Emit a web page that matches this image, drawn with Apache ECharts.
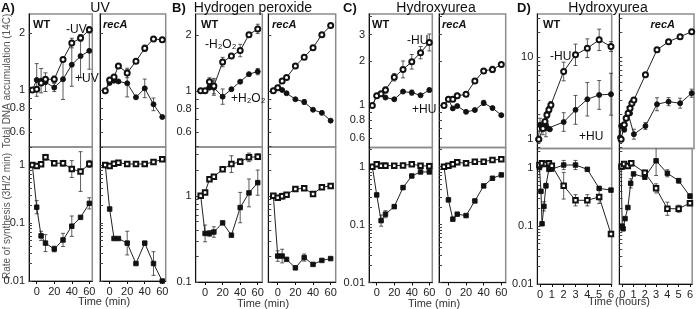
<!DOCTYPE html>
<html>
<head>
<meta charset="utf-8">
<script src="https://cdn.jsdelivr.net/npm/echarts@6/dist/echarts.min.js"></script>
<style>
html, body { margin: 0; padding: 0; background: #fff; }
#chart { width: 696px; height: 309px; }
</style>
</head>
<body>
<div id="chart"></div>
<script>
// time points (min) for panels A-C
const tMin = [-5, 0, 5, 10, 20, 30, 40, 50, 60];

// A) UV  -- "No" = untreated (open), "Yes" = treated (filled); Err = multiplicative error factor, 0 = none
const uvWtDnaNo = [1.0, 1.01, 1.09, 1.14, 1.14, 1.45, 1.77, 1.88, 2.08];
const uvWtDnaNoErr = [0, 0, 0, 0, 1.04, 0, 1.06, 1.04, 1.04];
const uvWtDnaYes = [1.0, 1.13, 1.12, 1.10, 1.03, 1.14, 1.36, 1.51, 1.61];
const uvWtDnaYesErr = [0, 1.22, 1.16, 1.12, 1.05, 1.28, 1.3, 1.3, 1.25];
const uvRecDnaNo = [0.99, 1.13, 1.17, 1.34, 1.23, 1.42, 1.66, 1.86, 1.84];
const uvRecDnaNoErr = [0, 0, 0, 0, 1.06, 0, 1.04, 1.03, 1.03];
const uvRecDnaYes = [0.99, 1.09, 1.12, 1.11, 1.085, 0.915, 1.02, 0.84, 0.72];
const uvRecDnaYesErr = [0, 0, 0, 0, 1.18, 0, 1.12, 1.08, 0];
const uvWtSynNo = [1.0, 0.96, 1.03, 1.36, 1.07, 1.07, 0.85, 0.77, 1.04];
const uvWtSynNoErr = [0, 0, 0, 1.12, 1.1, 1.12, 1.4, 2.2, 1.15];
const uvWtSynYes = [1.0, 0.187, 0.06, 0.045, 0.0356, 0.051, 0.088, 0.125, 0.218];
const uvWtSynYesErr = [0, 1.3, 1.2, 1.4, 1.12, 1.3, 1.5, 0, 1.25];
const uvRecSynNo = [1.0, 0.96, 1.05, 1.09, 1.04, 1.04, 1.04, 1.12, 1.25];
const uvRecSynNoErr = [0, 0, 0, 0, 0, 0, 0, 0, 0];
const uvRecSynYes = [1.0, 0.174, 0.054, 0.054, 0.045, 0.020, 0.045, 0.020, 0.01];
const uvRecSynYesErr = [0, 0, 0, 0, 1.6, 0, 0, 1.6, 0];

// B) Hydrogen peroxide
const h2WtDnaNo = [1.0, 1.0, 1.12, 1.06, 1.43, 1.54, 1.65, 2.01, 2.16];
const h2WtDnaNoErr = [0, 0, 1.05, 1.1, 1.06, 0, 1.08, 0, 1.06];
const h2WtDnaYes = [1.0, 1.0, 1.04, 1.04, 0.93, 1.02, 1.12, 1.23, 1.27];
const h2WtDnaYesErr = [0, 0, 0, 1.1, 1.1, 0, 0, 0, 1.04];
const h2RecDnaNo = [1.0, 1.04, 1.13, 1.18, 1.36, 1.52, 1.71, 2.01, 2.25];
const h2RecDnaNoErr = [0, 0, 0, 0, 0, 0, 0, 0, 0];
const h2RecDnaYes = [1.0, 1.04, 1.01, 0.97, 0.90, 0.87, 0.79, 0.76, 0.69];
const h2RecDnaYesErr = [0, 0, 0, 0, 0, 1.03, 0, 0, 0];
const h2WtSynNo = [1.0, 1.09, 1.56, 1.66, 2.03, 2.33, 2.49, 2.79, 2.84];
const h2WtSynNoErr = [0, 0, 0, 0, 0, 1.25, 1.08, 1.12, 1.08];
const h2WtSynYes = [1.0, 0.366, 0.366, 0.38, 0.485, 0.349, 0.73, 1.08, 1.42];
const h2WtSynYesErr = [0, 1.25, 1.08, 1.15, 0, 0, 1.5, 1.45, 1.4];
const h2RecSynNo = [1.0, 0.95, 0.99, 1.03, 1.2, 1.22, 1.05, 1.26, 1.3];
const h2RecSynNoErr = [0, 0, 1.08, 0, 0, 0, 0, 0, 0];
const h2RecSynYes = [1.0, 0.2, 0.2, 0.183, 0.146, 0.192, 0.16, 0.178, 0.187];
const h2RecSynYesErr = [0, 1.15, 1.2, 0, 0, 1.1, 0, 0, 0];

// C) Hydroxyurea (min)
const huWtDnaNo = [1.0, 1.16, 1.2, 1.27, 1.55, 1.75, 1.97, 2.27, 2.66];
const huWtDnaNoErr = [0, 0, 0, 1.05, 1.06, 1.14, 1.12, 1.1, 1.14];
const huWtDnaYes = [1.0, 1.16, 1.2, 1.13, 1.1, 1.24, 1.22, 1.17, 1.27];
const huWtDnaYesErr = [0, 0, 0, 0, 0, 0, 1.04, 0, 1.03];
const huRecDnaNo = [1.0, 1.1, 1.1, 1.16, 1.19, 1.46, 1.71, 1.75, 1.89];
const huRecDnaNoErr = [0, 0, 0, 0, 0, 0, 0, 1.05, 0];
const huRecDnaYes = [1.0, 1.1, 0.955, 0.99, 0.905, 0.93, 1.04, 0.96, 0.86];
const huRecDnaYesErr = [0, 0, 0, 0, 0, 0, 1.04, 0, 0];
const huWtSynNo = [1.0, 1.1, 1.04, 1.04, 1.04, 1.05, 1.1, 1.04, 1.02];
const huWtSynNoErr = [0, 0, 0, 1.12, 0, 0, 0, 0, 1.12];
const huWtSynYes = [1.0, 0.325, 0.117, 0.151, 0.204, 0.435, 0.69, 0.81, 0.81];
const huWtSynYesErr = [0, 0, 1.25, 1.15, 1.06, 1.08, 0, 0, 0];
const huRecSynNo = [1.0, 1.04, 1.1, 1.19, 1.14, 1.22, 1.22, 1.3, 1.34];
const huRecSynNoErr = [0, 0, 0, 0, 0, 0, 0, 0, 0];
const huRecSynYes = [1.0, 0.267, 0.124, 0.151, 0.143, 0.256, 0.465, 0.63, 0.72];
const huRecSynYesErr = [0, 0, 0, 0, 0, 0, 0, 0, 0];

// D) Hydroxyurea (hours)
const dWtDnaNoT = [-0.1, 0.25, 0.42, 0.58, 0.75, 0.92, 2, 3, 4, 5, 6];
const dWtDnaNo = [1.0, 1.35, 1.64, 1.98, 2.28, 2.62, 6.7, 10.7, 12.9, 16.3, 13.5];
const dWtDnaNoErr = [0, 0, 0, 1.1, 1.1, 1.1, 1.3, 1.35, 1.3, 1.35, 1.15];
const dWtDnaYesT = [-0.15, 0, 0.08, 0.25, 0.5, 0.67, 0.83, 2, 3, 4, 5, 6];
const dWtDnaYes = [1.0, 1.5, 1.45, 1.36, 1.5, 1.36, 1.32, 1.62, 2.28, 3.07, 3.47, 3.54];
const dWtDnaYesErr = [0, 1.2, 0, 1.2, 1.4, 0, 0, 1.3, 1.5, 1.6, 1.5, 1.8];
const dRecDnaNoT = [-0.1, 0.17, 0.33, 0.5, 0.67, 0.83, 1, 2, 3, 4, 5, 6];
const dRecDnaNo = [1.0, 1.5, 1.8, 2.07, 2.39, 2.75, 3.0, 6.1, 12.3, 15.5, 17.8, 20.5];
const dRecDnaNoErr = [0, 0, 0, 0, 0, 1.08, 0, 1.05, 1.06, 1.05, 1.06, 1.04];
const dRecDnaYesT = [-0.2, -0.1, 0, 0.17, 0.5, 0.67, 1, 2, 3, 4, 5, 6];
const dRecDnaYes = [1.05, 1.45, 1.45, 1.3, 2.07, 2.07, 1.15, 1.45, 2.67, 2.87, 2.75, 3.64];
const dRecDnaYesErr = [0, 0, 0, 0, 1.2, 0, 1.15, 1.1, 1.2, 1.12, 1.15, 1.12];
const dWtSynNoT = [-0.05, 0.17, 0.5, 0.75, 1, 2, 3, 4, 5, 6];
const dWtSynNo = [1.14, 1.22, 1.19, 1.22, 1.11, 0.5, 0.28, 0.28, 0.32, 0.073];
const dWtSynNoErr = [0, 0, 0, 0, 0, 1.7, 1.25, 1.25, 1.3, 0];
const dWtSynYesT = [-0.05, 0.08, 0.17, 0.33, 0.5, 0.75, 1, 2, 3, 4, 5, 6];
const dWtSynYes = [1.03, 0.4, 0.11, 0.22, 0.5, 0.96, 0.97, 1.14, 1.14, 0.96, 0.45, 0.42];
const dWtSynYesErr = [0, 0, 0, 1.2, 1.1, 0, 0, 1.2, 1.2, 0, 0, 0];
const dRecSynNoT = [-0.05, 0.17, 0.5, 0.8, 2, 3, 4, 5, 6];
const dRecSynNo = [1.07, 1.19, 1.1, 1.22, 0.84, 0.45, 0.2, 0.2, 0.25];
const dRecSynNoErr = [0, 0, 0, 1.1, 1.1, 1.2, 1.3, 1.15, 1.1];
const dRecSynYesT = [-0.1, 0, 0.08, 0.25, 0.5, 0.75, 1, 2, 3, 4, 5, 6];
const dRecSynYes = [1.05, 0.1, 0.09, 0.135, 0.21, 0.55, 0.8, 0.7, 1.35, 0.82, 0.61, 0.33];
const dRecSynYesErr = [0, 0, 0, 0, 0, 1.2, 0, 0, 1.8, 1.15, 1.1, 1.1];

// axis tick / label values
const minLabels = [0, 20, 40, 60];
const hourLabels = [0, 1, 2, 3, 4, 5, 6];
const dnaLabels = [0.6, 0.8, 1, 2];
const dnaLabelsC = [0.6, 0.8, 1, 2, 3];
const dnaLabelsD = [1, 10];
const synLabels = [0.01, 0.1, 1];
const synLabelsB = [0.1, 1];

const FONT = '"Liberation Sans", Arial, sans-serif';
const lg = Math.log10;
const decadeTicks = (lo, hi) => {
    const out = [];
    for (let d = lo; d < hi; d *= 10) {
        for (let m = 1; m <= 9; m++) out.push(+(m * d).toPrecision(3));
    }
    return out;
};
const fmt = (v) => String(+Math.pow(10, v).toPrecision(3));

const grids = [], xAxes = [], yAxes = [], series = [];

function errBar(params, api) {
    const x = api.value(0);
    const a = api.coord([x, api.value(1)]);
    const b = api.coord([x, api.value(2)]);
    const c = 2;
    const st = { stroke: '#333', lineWidth: 0.8 };
    return {
        type: 'group',
        children: [
            { type: 'line', shape: { x1: a[0], y1: a[1], x2: b[0], y2: b[1] }, style: st },
            { type: 'line', shape: { x1: a[0] - c, y1: a[1], x2: a[0] + c, y2: a[1] }, style: st },
            { type: 'line', shape: { x1: b[0] - c, y1: b[1], x2: b[0] + c, y2: b[1] }, style: st },
        ],
    };
}

function addPlot(p) {
    const i = grids.length;
    grids.push({
        left: p.left, top: p.top, width: p.width, height: p.height,
        show: true, borderColor: '#8c8c8c', borderWidth: 1.5,
    });
    const hasX = !!p.xLabels;
    xAxes.push({
        type: 'value', gridIndex: i, min: p.xr[0], max: p.xr[1],
        splitLine: { show: false },
        axisLine: { show: hasX, onZero: false, lineStyle: { color: '#111', width: 1 } },
        axisTick: { show: hasX, customValues: p.xLabels || [], length: 3, lineStyle: { color: '#111' } },
        axisLabel: { show: hasX, customValues: p.xLabels || [], fontSize: 11, color: '#222', margin: 5, fontFamily: FONT },
    });
    yAxes.push({
        type: 'value', gridIndex: i, min: lg(p.yr[0]), max: lg(p.yr[1]),
        splitLine: { show: false },
        axisLine: { show: true, onZero: false, lineStyle: { color: '#111', width: 1 } },
        axisTick: { inside: true, length: 3, customValues: p.yTicks.map(lg), lineStyle: { color: '#444' } },
        axisLabel: {
            show: p.showY, customValues: p.yLabels.map(lg), formatter: fmt,
            fontSize: 11, color: '#222', margin: 4, fontFamily: FONT,
        },
    });
    p.series.forEach((s) => {
        series.push({
            type: 'line', xAxisIndex: i, yAxisIndex: i,
            data: s.t.map((t, k) => [t, lg(s.v[k])]),
            symbol: s.sym, symbolSize: s.size,
            lineStyle: { color: '#222', width: 1 },
            itemStyle: { color: '#111', borderColor: '#111', borderWidth: 0.9 },
            animation: false, z: 3,
        });
        const eb = [];
        s.err.forEach((f, k) => {
            if (f) eb.push([s.t[k], lg(s.v[k] / f), lg(s.v[k] * f)]);
        });
        if (eb.length) {
            series.push({
                type: 'custom', xAxisIndex: i, yAxisIndex: i, data: eb,
                renderItem: errBar, clip: true, z: 2, animation: false, silent: true,
            });
        }
    });
}

const open = (t, v, err, sq) => ({ t, v, err, sym: sq ? 'emptyRect' : 'emptyCircle', size: sq ? 4.5 : 5 });
const fill = (t, v, err, sq) => ({ t, v, err, sym: sq ? 'rect' : 'circle', size: sq ? 4.5 : 5 });

// column layouts
const cols = [
    {
        div: 147, bot: 281, wt: [29, 63.3, -8.8, 63.4], rec: [100, 65.7, -11, 63.9],
        topY: [0.5, 2.52], botY: [0.01, 2.04], topT: [0.5, 0.6, 0.7, 0.8, 0.9, 1, 2],
        topL: dnaLabels, botT: decadeTicks(0.01, 1).concat([1, 2]), botL: synLabels, xl: minLabels,
        wtTop: [fill(tMin, uvWtDnaYes, uvWtDnaYesErr), open(tMin, uvWtDnaNo, uvWtDnaNoErr)],
        recTop: [fill(tMin, uvRecDnaYes, uvRecDnaYesErr), open(tMin, uvRecDnaNo, uvRecDnaNoErr)],
        wtBot: [fill(tMin, uvWtSynYes, uvWtSynYesErr, 1), open(tMin, uvWtSynNo, uvWtSynNoErr, 1)],
        recBot: [fill(tMin, uvRecSynYes, uvRecSynYesErr, 1), open(tMin, uvRecSynNo, uvRecSynNoErr, 1)],
    },
    {
        div: 147, bot: 282, wt: [195.7, 66.6, -10.7, 65.2], rec: [268.3, 67.4, -10.7, 65.7],
        topY: [0.497, 2.6], botY: [0.1, 3.68], topT: [0.5, 0.6, 0.7, 0.8, 0.9, 1, 2],
        topL: dnaLabels, botT: decadeTicks(0.1, 1).concat([1, 2, 3]), botL: synLabelsB, xl: minLabels,
        wtTop: [fill(tMin, h2WtDnaYes, h2WtDnaYesErr), open(tMin, h2WtDnaNo, h2WtDnaNoErr)],
        recTop: [fill(tMin, h2RecDnaYes, h2RecDnaYesErr), open(tMin, h2RecDnaNo, h2RecDnaNoErr)],
        wtBot: [fill(tMin, h2WtSynYes, h2WtSynYesErr, 1), open(tMin, h2WtSynNo, h2WtSynNoErr, 1)],
        recBot: [fill(tMin, h2RecSynYes, h2RecSynYesErr, 1), open(tMin, h2RecSynNo, h2RecSynNoErr, 1)],
    },
    {
        div: 147.5, bot: 282.5, wt: [369, 63.3, -8.8, 63.4], rec: [439, 66.7, -10.7, 65],
        topY: [0.52, 4.14], botY: [0.01, 2.14], topT: [0.6, 0.7, 0.8, 0.9, 1, 2, 3, 4],
        topL: dnaLabelsC, botT: decadeTicks(0.01, 1).concat([1, 2]), botL: synLabels, xl: minLabels,
        wtTop: [fill(tMin, huWtDnaYes, huWtDnaYesErr), open(tMin, huWtDnaNo, huWtDnaNoErr)],
        recTop: [fill(tMin, huRecDnaYes, huRecDnaYesErr), open(tMin, huRecDnaNo, huRecDnaNoErr)],
        wtBot: [fill(tMin, huWtSynYes, huWtSynYesErr, 1), open(tMin, huWtSynNo, huWtSynNoErr, 1)],
        recBot: [fill(tMin, huRecSynYes, huRecSynYesErr, 1), open(tMin, huRecSynNo, huRecSynNoErr, 1)],
    },
    {
        div: 148.5, bot: 284, wt: [537.3, 74.4, -0.23, 6.06], rec: [619.3, 74.7, -0.26, 6.2],
        topY: [0.77, 33.7], botY: [0.01, 2.2], topT: [0.8, 0.9].concat(decadeTicks(1, 10), [10, 20, 30]),
        topL: dnaLabelsD, botT: decadeTicks(0.01, 1).concat([1, 2]), botL: synLabels, xl: hourLabels,
        wtTop: [fill(dWtDnaYesT, dWtDnaYes, dWtDnaYesErr), open(dWtDnaNoT, dWtDnaNo, dWtDnaNoErr)],
        recTop: [fill(dRecDnaYesT, dRecDnaYes, dRecDnaYesErr), open(dRecDnaNoT, dRecDnaNo, dRecDnaNoErr)],
        wtBot: [fill(dWtSynYesT, dWtSynYes, dWtSynYesErr, 1), open(dWtSynNoT, dWtSynNo, dWtSynNoErr, 1)],
        recBot: [fill(dRecSynYesT, dRecSynYes, dRecSynYesErr, 1), open(dRecSynNoT, dRecSynNo, dRecSynNoErr, 1)],
    },
];

cols.forEach((c) => {
    const top = 14;
    [['wt', true], ['rec', false]].forEach(([k, showY]) => {
        const b = c[k];
        addPlot({
            left: b[0], width: b[1], top, height: c.div - top, xr: [b[2], b[3]],
            yr: c.topY, yTicks: c.topT, yLabels: c.topL, showY,
            series: c[k + 'Top'],
        });
        addPlot({
            left: b[0], width: b[1], top: c.div, height: c.bot - c.div, xr: [b[2], b[3]],
            yr: c.botY, yTicks: c.botT, yLabels: c.botL, showY, xLabels: c.xl,
            series: c[k + 'Bot'],
        });
    });
});

const txt = (text, x, y, opts = {}) => ({
    type: 'text', x, y, rotation: opts.rot || 0, z: 10,
    style: {
        text, fill: opts.color || '#111',
        font: (opts.weight || 'normal') + ' ' + (opts.size || 12) + 'px ' + FONT,
        align: opts.align || 'left', verticalAlign: 'middle',
    },
});
const bold = { weight: 'bold', size: 13 };
const gene = { weight: 'bold', size: 11 };
const geneI = { weight: 'italic bold', size: 11 };
const axisName = { rot: Math.PI / 2, align: 'center', size: 10, color: '#555' };
const timeName = { align: 'center', size: 11, color: '#333' };

const graphics = [
    txt('A)', 1, 8, bold), txt('UV', 100, 8, { size: 14, align: 'center' }),
    txt('B)', 172, 8, bold), txt('Hydrogen peroxide', 253, 8, { size: 14, align: 'center' }),
    txt('C)', 343, 8, bold), txt('Hydroxyurea', 436, 8, { size: 14, align: 'center' }),
    txt('D)', 517, 8, bold), txt('Hydroxyurea', 608, 8, { size: 14, align: 'center' }),
    txt('WT', 33, 25, gene), txt('recA', 103, 25, geneI),
    txt('WT', 201, 25, gene), txt('recA', 272, 25, geneI),
    txt('WT', 372, 25, gene), txt('recA', 442, 25, geneI),
    txt('WT', 543, 25, gene), txt('recA', 675, 25, Object.assign({ align: 'right' }, geneI)),
    txt('-UV', 66, 30), txt('+UV', 75, 79),
    txt('-H₂O₂', 205, 45), txt('+H₂O₂', 231, 99),
    txt('-HU', 407, 41), txt('+HU', 412, 110),
    txt('-HU', 550, 57), txt('+HU', 579, 137),
    txt('Total DNA accumulation (14C)', 7, 81, axisName),
    txt('Rate of synthesis (3H/2 min)', 7, 216, axisName),
    txt('Time (min)', 104, 302, timeName),
    txt('Time (min)', 263, 304, timeName),
    txt('Time (min)', 434, 304, timeName),
    txt('Time (hours)', 619, 302, timeName),
];

const chart = echarts.init(document.getElementById('chart'));
chart.setOption({
    animation: false,
    backgroundColor: '#fff',
    grid: grids,
    xAxis: xAxes,
    yAxis: yAxes,
    series,
    graphic: graphics,
});
</script>
</body>
</html>
